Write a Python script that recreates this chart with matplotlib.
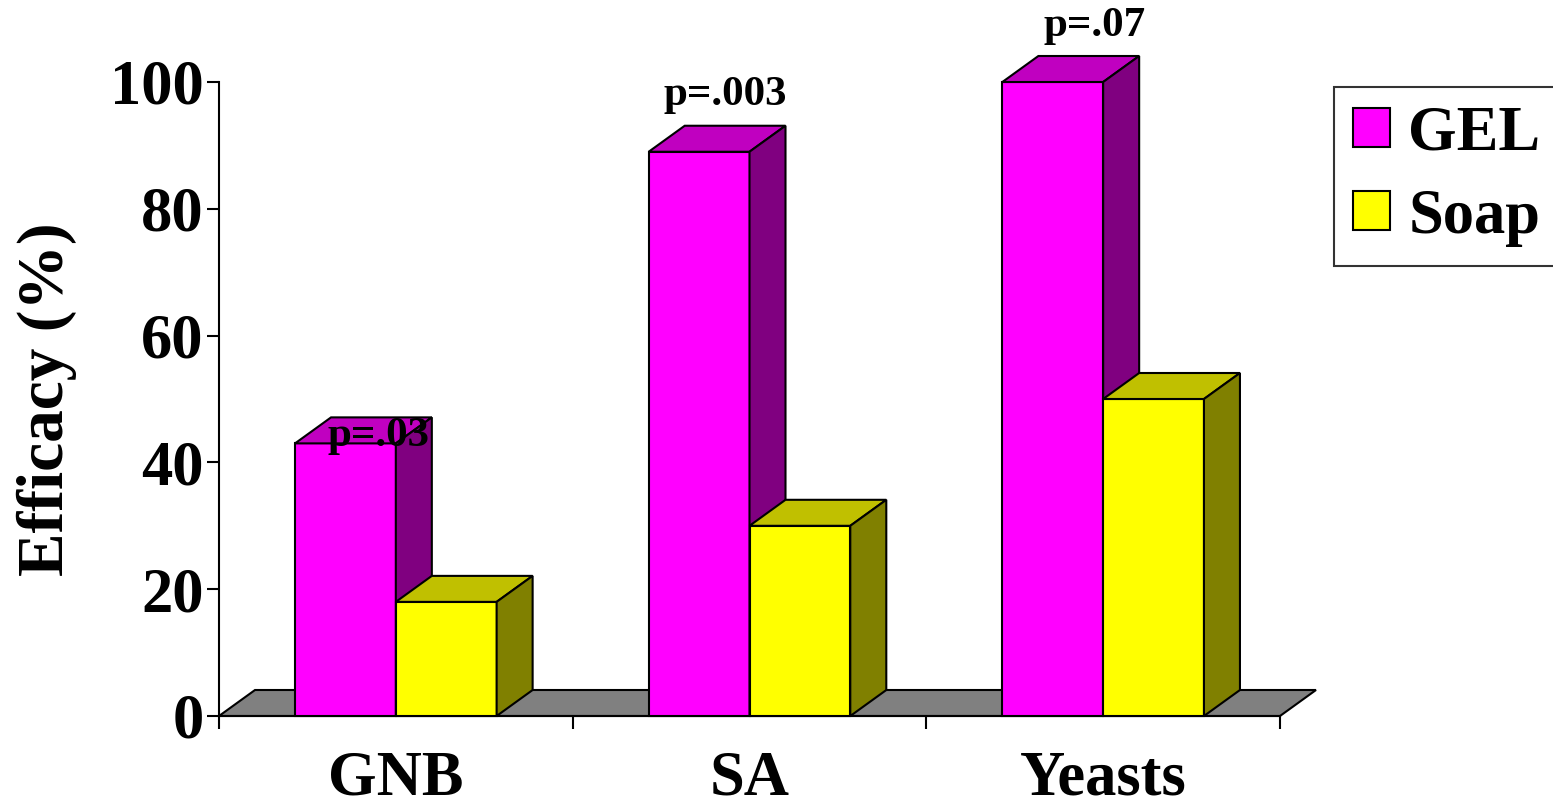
import matplotlib
matplotlib.use("Agg")
import matplotlib.pyplot as plt
from matplotlib.patches import Polygon, Patch

# Data
categories = ["GNB", "SA", "Yeasts"]
gel_values = [43, 89, 100]
soap_values = [18, 30, 50]
series_names = ["GEL", "Soap"]
p_labels = ["p=.03", "p=.003", "p=.07"]
y_ticks = [0, 20, 40, 60, 80, 100]

# Colours: front, top, side faces
GEL_COLS = ("#FF00FF", "#C000C0", "#800080")
SOAP_COLS = ("#FFFF00", "#C0C000", "#808000")
FLOOR_COL = "#808080"

FONT = "Liberation Serif"
W, H, DPI = 1553, 806, 100

fig = plt.figure(figsize=(W / DPI, H / DPI), dpi=DPI)
ax_left, ax_right = 219 / W, 1280 / W
ax_bottom, ax_top = 1 - 716 / H, 1 - 82 / H
ax = fig.add_axes([ax_left, ax_bottom, ax_right - ax_left, ax_top - ax_bottom])
n = len(categories)
ax.set_xlim(0, n)
ax.set_ylim(0, 100)

# depth of the pseudo-3D extrusion, given in pixels and converted to data units
ax_w_px = (ax_right - ax_left) * W
ax_h_px = (ax_top - ax_bottom) * H
DEPTH_X = 36 / ax_w_px * n
DEPTH_Y = 26 / ax_h_px * 100

LW = 1.5

def box(x0, width, height, cols, z):
    x1 = x0 + width
    front = [(x0, 0), (x1, 0), (x1, height), (x0, height)]
    top = [(x0, height), (x1, height), (x1 + DEPTH_X, height + DEPTH_Y), (x0 + DEPTH_X, height + DEPTH_Y)]
    side = [(x1, 0), (x1 + DEPTH_X, DEPTH_Y), (x1 + DEPTH_X, height + DEPTH_Y), (x1, height)]
    for pts, c in ((front, cols[0]), (top, cols[1]), (side, cols[2])):
        ax.add_patch(Polygon(pts, closed=True, facecolor=c, edgecolor="black",
                             linewidth=LW, joinstyle="miter", clip_on=False, zorder=z))

# floor
floor = [(0, 0), (n, 0), (n + DEPTH_X, DEPTH_Y), (DEPTH_X, DEPTH_Y)]
ax.add_patch(Polygon(floor, closed=True, facecolor=FLOOR_COL, edgecolor="black",
                     linewidth=LW, clip_on=False, zorder=1))

BAR_W = 0.285
for i in range(n):
    c = i + 0.5
    box(c - BAR_W, BAR_W, gel_values[i], GEL_COLS, 2 + 2 * i)
    box(c, BAR_W, soap_values[i], SOAP_COLS, 3 + 2 * i)

# p-value annotations above the GEL columns
p_offsets_px = [(33, -3), (26, 47), (42, 46)]
for i, (lab, (ox, oy)) in enumerate(zip(p_labels, p_offsets_px)):
    ax.annotate(lab, xy=(i + 0.5 - BAR_W / 2, gel_values[i]), xytext=(ox * 72 / DPI, oy * 72 / DPI),
                textcoords="offset points", ha="center", va="baseline",
                fontfamily=FONT, fontweight="bold", fontsize=31, zorder=20,
                annotation_clip=False)

# axes styling
for s in ("top", "right"):
    ax.spines[s].set_visible(False)
ax.spines["left"].set_linewidth(LW)
ax.spines["bottom"].set_linewidth(LW)
ax.spines["bottom"].set_zorder(1.5)
ax.patch.set_alpha(0)

ax.set_yticks(y_ticks)
ax.set_yticklabels([str(v) for v in y_ticks], fontfamily=FONT, fontweight="bold", fontsize=45)
ax.tick_params(axis="y", length=9, width=LW, pad=2)

ax.set_xticks([i + 0.5 for i in range(n)])
ax.set_xticklabels(categories, fontfamily=FONT, fontweight="bold", fontsize=45)
ax.set_xticks(range(n + 1), minor=True)
ax.tick_params(axis="x", which="major", length=0, pad=25)
ax.tick_params(axis="x", which="minor", length=9, width=LW)

ax.set_ylabel("Efficacy (%)", fontfamily=FONT, fontweight="bold", fontsize=47, labelpad=24)

handles = [Patch(facecolor=GEL_COLS[0], edgecolor="black", linewidth=LW),
           Patch(facecolor=SOAP_COLS[0], edgecolor="black", linewidth=LW)]
leg = fig.legend(handles, series_names, loc="upper left",
                 bbox_to_anchor=(1334 / W, 1 - 87 / H),
                 prop={"family": FONT, "weight": "bold", "size": 45},
                 handlelength=0.59, handleheight=0.59, handletextpad=0.3,
                 labelspacing=0.4, borderpad=0.3, borderaxespad=0,
                 frameon=True, fancybox=False, edgecolor="black")
leg.get_frame().set_linewidth(LW)

fig.savefig("out.png", dpi=DPI, facecolor="white")
